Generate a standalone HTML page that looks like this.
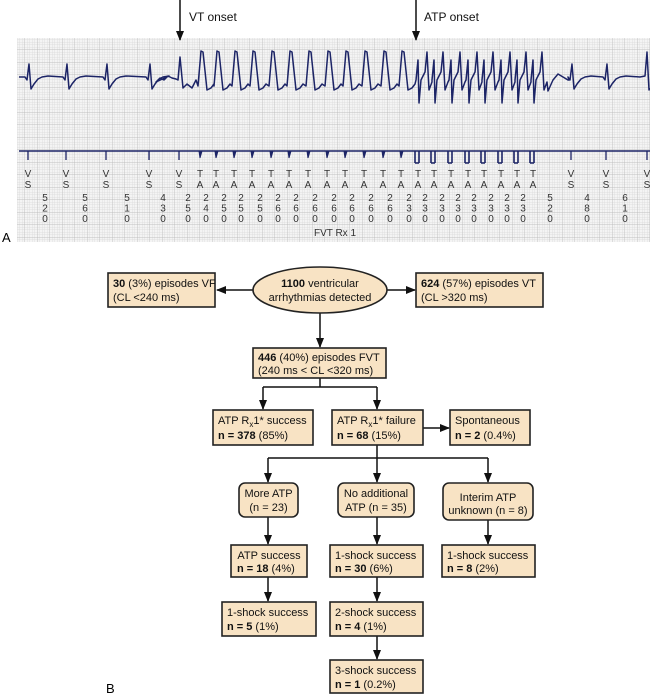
<!DOCTYPE html>
<html><head><meta charset="utf-8"><style>
html,body{margin:0;padding:0;background:#fff;}
svg{display:block;font-family:"Liberation Sans",Arial,sans-serif;}
.bx{fill:#f8e3c4;stroke:#222;stroke-width:1.6;}
.t{font-size:11px;fill:#111;}
.h{font-size:12px;fill:#111;}
.m{font-size:10px;fill:#333;text-anchor:middle;}
.ln{stroke:#111;stroke-width:1.5;fill:none;}
</style></head><body>
<svg id="s" width="650" height="697" viewBox="0 0 650 697" xmlns="http://www.w3.org/2000/svg">
<defs>
<pattern id="minor" width="2.5" height="2.5" patternUnits="userSpaceOnUse"><path d="M2.5 0V2.5H0" fill="none" stroke="#cfcfcf" stroke-width="0.5"/></pattern>
<pattern id="major" width="12.5" height="12.5" patternUnits="userSpaceOnUse"><rect width="12.5" height="12.5" fill="url(#minor)"/><path d="M12.5 0V12.5H0" fill="none" stroke="#b5b5b5" stroke-width="0.7"/></pattern>
<marker id="ar" markerWidth="10" markerHeight="10" refX="9" refY="5" orient="auto" markerUnits="userSpaceOnUse"><path d="M0 1L10 5L0 9Z" fill="#111"/></marker>
</defs>
<rect x="17" y="38" width="633" height="204" fill="#f4f4f4"/>
<rect x="17" y="38" width="633" height="204" fill="url(#major)"/>
<line x1="180" y1="0" x2="180" y2="40" class="ln" marker-end="url(#ar)"/>
<line x1="416" y1="0" x2="416" y2="40" class="ln" marker-end="url(#ar)"/>
<text x="189" y="21" class="h">VT onset</text>
<text x="424" y="21" class="h">ATP onset</text>
<text x="2" y="242" style="font-size:13px">A</text>
<g id="ecg"></g>
<text x="335" y="236" class="m">FVT Rx 1</text>

<g class="ln">
<line x1="253" y1="290" x2="217" y2="290" marker-end="url(#ar)"/>
<line x1="387" y1="290" x2="415" y2="290" marker-end="url(#ar)"/>
<line x1="320" y1="313" x2="320" y2="347" marker-end="url(#ar)"/>
<polyline points="320,378 320,387"/>
<line x1="263" y1="387" x2="377" y2="387"/>
<line x1="263" y1="387" x2="263" y2="409" marker-end="url(#ar)"/>
<line x1="377" y1="387" x2="377" y2="409" marker-end="url(#ar)"/>
<line x1="423" y1="428" x2="449" y2="428" marker-end="url(#ar)"/>
<line x1="377" y1="445" x2="377" y2="458"/>
<line x1="268" y1="458" x2="488" y2="458"/>
<line x1="268" y1="458" x2="268" y2="482" marker-end="url(#ar)"/>
<line x1="377" y1="458" x2="377" y2="482" marker-end="url(#ar)"/>
<line x1="488" y1="458" x2="488" y2="482" marker-end="url(#ar)"/>
<line x1="268" y1="517" x2="268" y2="544" marker-end="url(#ar)"/>
<line x1="377" y1="517" x2="377" y2="544" marker-end="url(#ar)"/>
<line x1="488" y1="520" x2="488" y2="544" marker-end="url(#ar)"/>
<line x1="268" y1="577" x2="268" y2="601" marker-end="url(#ar)"/>
<line x1="377" y1="577" x2="377" y2="601" marker-end="url(#ar)"/>
<line x1="377" y1="636" x2="377" y2="659" marker-end="url(#ar)"/>
</g>
<rect class="bx" x="108" y="273" width="107" height="34"/>
<text class="t" x="113" y="287"><tspan font-weight="bold">30</tspan> (3%) episodes VF</text>
<text class="t" x="113" y="301">(CL &lt;240 ms)</text>
<ellipse class="bx" cx="320" cy="290" rx="67" ry="23"/>
<text class="t" x="320" y="287" text-anchor="middle"><tspan font-weight="bold">1100</tspan> ventricular</text>
<text class="t" x="320" y="301" text-anchor="middle">arrhythmias detected</text>
<rect class="bx" x="416" y="273" width="127" height="34"/>
<text class="t" x="421" y="287"><tspan font-weight="bold">624</tspan> (57%) episodes VT</text>
<text class="t" x="421" y="301">(CL &gt;320 ms)</text>
<rect class="bx" x="253" y="348" width="133" height="30"/>
<text class="t" x="258" y="361"><tspan font-weight="bold">446</tspan> (40%) episodes FVT</text>
<text class="t" x="258" y="374">(240 ms &lt; CL &lt;320 ms)</text>
<rect class="bx" x="213" y="410" width="100" height="35"/>
<text class="t" x="218" y="424">ATP R<tspan font-size="8" dy="3">x</tspan><tspan dy="-3">1* success</tspan></text>
<text class="t" x="218" y="439"><tspan font-weight="bold">n = 378</tspan> (85%)</text>
<rect class="bx" x="332" y="410" width="91" height="35"/>
<text class="t" x="337" y="424">ATP R<tspan font-size="8" dy="3">x</tspan><tspan dy="-3">1* failure</tspan></text>
<text class="t" x="337" y="439"><tspan font-weight="bold">n = 68</tspan> (15%)</text>
<rect class="bx" x="450" y="410" width="80" height="35"/>
<text class="t" x="455" y="424">Spontaneous</text>
<text class="t" x="455" y="439"><tspan font-weight="bold">n = 2</tspan> (0.4%)</text>
<rect class="bx" x="239" y="483" width="59" height="34" rx="6"/>
<text class="t" x="268.5" y="497" text-anchor="middle">More ATP</text>
<text class="t" x="268.5" y="511" text-anchor="middle">(n = 23)</text>
<rect class="bx" x="338" y="483" width="76" height="34" rx="6"/>
<text class="t" x="376" y="497" text-anchor="middle">No additional</text>
<text class="t" x="376" y="511" text-anchor="middle">ATP (n = 35)</text>
<rect class="bx" x="443" y="483" width="90" height="37" rx="6"/>
<text class="t" x="488" y="501" text-anchor="middle">Interim ATP</text>
<text class="t" x="488" y="514" text-anchor="middle">unknown (n = 8)</text>
<rect class="bx" x="231" y="545" width="76" height="32"/>
<text class="t" x="269" y="559" text-anchor="middle">ATP success</text>
<text class="t" x="237" y="572"><tspan font-weight="bold">n = 18</tspan> (4%)</text>
<rect class="bx" x="330" y="545" width="93" height="32"/>
<text class="t" x="335" y="559">1-shock success</text>
<text class="t" x="335" y="572"><tspan font-weight="bold">n = 30</tspan> (6%)</text>
<rect class="bx" x="442" y="545" width="93" height="32"/>
<text class="t" x="447" y="559">1-shock success</text>
<text class="t" x="447" y="572"><tspan font-weight="bold">n = 8</tspan> (2%)</text>
<rect class="bx" x="222" y="602" width="94" height="34"/>
<text class="t" x="227" y="616">1-shock success</text>
<text class="t" x="227" y="630"><tspan font-weight="bold">n = 5</tspan> (1%)</text>
<rect class="bx" x="330" y="602" width="93" height="34"/>
<text class="t" x="335" y="616">2-shock success</text>
<text class="t" x="335" y="630"><tspan font-weight="bold">n = 4</tspan> (1%)</text>
<rect class="bx" x="330" y="660" width="93" height="33"/>
<text class="t" x="335" y="674">3-shock success</text>
<text class="t" x="335" y="688"><tspan font-weight="bold">n = 1</tspan> (0.2%)</text>
<text x="106" y="693" style="font-size:13px">B</text>
</svg>
<script>
(function(){
var NS="http://www.w3.org/2000/svg",g=document.getElementById("ecg");
function el(n,a,t){var e=document.createElementNS(NS,n);for(var k in a)e.setAttribute(k,a[k]);if(t!=null)e.textContent=t;g.appendChild(e);return e;}
var pts=[[19,77]];
function add(a){a.forEach(function(p){pts.push(p)});}
function sinus(x){add([[x-3,77],[x-1,80],[x+1,64],[x+3,89],[x+6,84],[x+10,79],[x+14,77],[x+20,76]]);}
[28,66,106,149].forEach(sinus);
add([[156,82],[160,78],[164,80],[168,76],[172,78],[176,79]]);
add([[178,80],[180,57],[183,88],[187,84],[192,88],[196,80]]);
var vt=[200,216,234,252,271,289,308,327,345,364,383,401];
vt.forEach(function(x){add([[x-2,86],[x+1,51],[x+3,52],[x+7,90],[x+11,88],[x+14,84]]);});
var atp=[418,434,451,468,484,501,517,533];
atp.forEach(function(x,i){add([[x-2,80],[x,60],[x+1,103],[x+3,80],[x+7,72],[x+9,52],[x+11,90],[x+14,82]]);});
add([[548,91],[553,80],[558,74],[563,77],[568,80],[569,80]]);
[571,606].forEach(sinus);
add([[640,77],[645,76],[647,52],[649,90],[650,88]]);
el("polyline",{points:pts.map(function(p){return p.join(",")}).join(" "),fill:"none",stroke:"#1c2466","stroke-width":"1.5","stroke-linejoin":"round"});
el("line",{x1:19,y1:151,x2:650,y2:151,stroke:"#1c2466","stroke-width":"1.5"});
var vs=[28,66,106,149,179,571,606,647],ta=[200,216,234,252,271,289,308,327,345,364,383,401,418,434,451,468,484,501,517,533];
vs.forEach(function(x){el("line",{x1:x,y1:151,x2:x,y2:160,stroke:"#1c2466","stroke-width":"1.3"});
 el("text",{x:x,y:177,"class":"m"},"V");el("text",{x:x,y:188,"class":"m"},"S");});
ta.forEach(function(x,i){
 if(i<12){el("path",{d:"M"+(x-1)+" 151L"+x+" 158L"+(x+2)+" 151Z",fill:"#1c2466",stroke:"#1c2466","stroke-width":"1"});}
 else{el("path",{d:"M"+(x-3)+" 151L"+(x-3)+" 163M"+(x+1)+" 151L"+(x+1)+" 163M"+(x-3)+" 163L"+(x+1)+" 163",fill:"none",stroke:"#1c2466","stroke-width":"1.6"});}
 el("text",{x:x,y:177,"class":"m"},"T");el("text",{x:x,y:188,"class":"m"},"A");});
var cx=[45,85,127,163,188,206,224,241,260,278,296,315,334,352,371,390,409,425,442,458,474,491,507,523,550,587,625];
var v=["520","560","510","430","250","240","250","250","250","260","260","260","260","260","260","260","230","230","230","230","230","230","230","230","520","480","610"];
cx.forEach(function(x,i){for(var j=0;j<3;j++)el("text",{x:x,y:201+j*10.5,"class":"m"},v[i][j]);});
})();
</script>
</body></html>
